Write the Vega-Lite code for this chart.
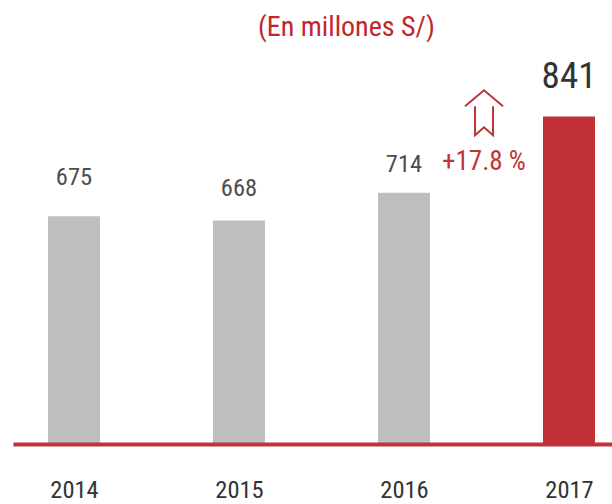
{"$schema":"https://vega.github.io/schema/vega-lite/v6.json","autosize":"none","width":599,"height":394,"padding":{"left":13,"top":50,"right":0,"bottom":60},"background":"white","title":{"text":"(En millones S/)","font":"Roboto Condensed, DejaVu Sans Condensed, Roboto","fontSize":28,"fontWeight":"normal","color":"#C1272D","anchor":"start","dx":245,"offset":8},"config":{"view":{"stroke":null}},"data":{"values":[{"year":2014,"value":675,"labelY":738.6,"c":"g"},{"year":2015,"value":668,"labelY":720.3,"c":"g"},{"year":2016,"value":714,"labelY":760.3,"c":"g"},{"year":2017,"value":841,"labelY":906.8,"c":"r"}]},"layer":[{"mark":{"type":"bar","size":52,"clip":true},"encoding":{"x":{"field":"year","type":"quantitative","scale":{"domain":[2013.6303,2017.2606],"nice":false,"zero":false,"padding":0},"axis":{"values":[2014,2015,2016,2017],"format":"d","title":null,"grid":false,"ticks":false,"domainColor":"#C1333A","domainWidth":4,"labelFont":"Roboto Condensed, DejaVu Sans Condensed, Roboto","labelFontSize":24.5,"labelColor":"#333333","labelPadding":34,"labelFlush":false,"zindex":1}},"y":{"field":"value","type":"quantitative","scale":{"domain":[295.6,951.8],"nice":false,"zero":false},"axis":null},"color":{"field":"c","type":"nominal","scale":{"domain":["g","r"],"range":["#BCBEC0","#C03035"]},"legend":null}}},{"transform":[{"filter":"datum.c=='g'"}],"mark":{"type":"text","font":"Roboto Condensed, DejaVu Sans Condensed, Roboto","fontSize":24.5,"color":"#4D4D4D"},"encoding":{"x":{"field":"year","type":"quantitative"},"y":{"field":"labelY","type":"quantitative"},"text":{"field":"value","type":"nominal"}}},{"transform":[{"filter":"datum.c=='r'"}],"mark":{"type":"text","font":"Roboto Condensed, DejaVu Sans Condensed, Roboto","fontSize":37,"color":"#333333"},"encoding":{"x":{"field":"year","type":"quantitative"},"y":{"field":"labelY","type":"quantitative"},"text":{"field":"value","type":"nominal"}}},{"data":{"values":[{"x":2016.485,"y":766,"t":"+17.8 %"}]},"mark":{"type":"text","font":"Roboto Condensed, DejaVu Sans Condensed, Roboto","fontSize":27,"color":"#C1333A"},"encoding":{"x":{"field":"x","type":"quantitative"},"y":{"field":"y","type":"quantitative"},"text":{"field":"t","type":"nominal"}}},{"data":{"values":[{"x":2016.485,"y":848}]},"mark":{"type":"point","filled":false,"strokeWidth":2,"color":"#C1333A","opacity":1,"size":1936,"shape":"M-0.864,-0.273L0,-1L0.864,-0.273M-0.409,-0.273L-0.409,1.045L0,0.682L0.409,1.045L0.409,-0.273"},"encoding":{"x":{"field":"x","type":"quantitative"},"y":{"field":"y","type":"quantitative"}}}]}
